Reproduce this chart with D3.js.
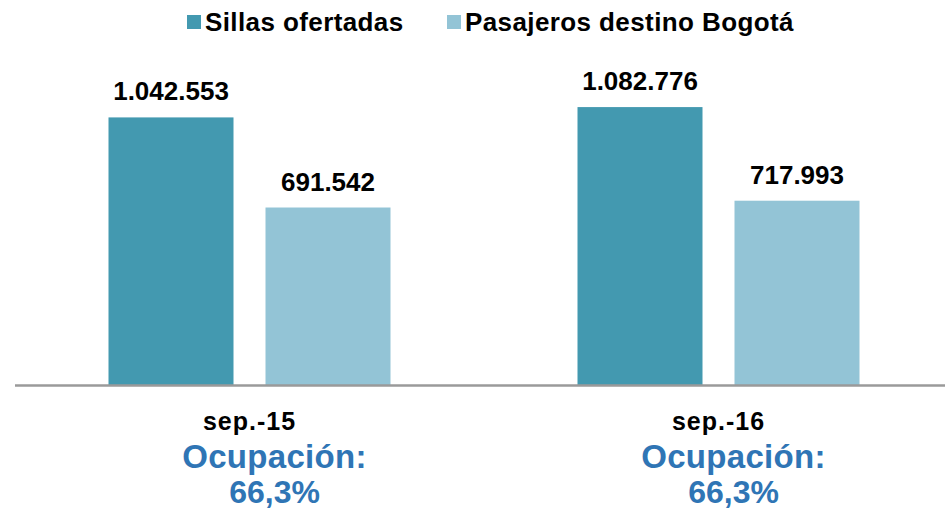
<!DOCTYPE html>
<html>
<head>
<meta charset="utf-8">
<script src="https://cdn.jsdelivr.net/npm/d3@7"></script>
<style>
  html, body { margin: 0; padding: 0; background: #fff; }
  svg { display: block; }
  text { font-family: "Liberation Sans", Arial, sans-serif; }
</style>
</head>
<body>
<svg id="chart" width="945" height="509"></svg>
<script>
const categories = ["sep.-15", "sep.-16"];
const seriesNames = ["Sillas ofertadas", "Pasajeros destino Bogotá"];
const sillas = [1042553, 1082776];
const pasajeros = [691542, 717993];
const ocupacion = ["66,3%", "66,3%"];
const colors = ["#4399B0", "#93C4D6"];

const fmt = v => d3.format(",")(v).replace(/,/g, ".");

const svg = d3.select("#chart");
const baseY = 385;

const x0 = d3.scaleBand().domain(categories).range([15, 953]).paddingInner(0).paddingOuter(0);
const x1 = d3.scaleBand().domain(seriesNames).range([-141, 141]).paddingInner(32 / 157).paddingOuter(0);
const y = d3.scaleLinear().domain([0, 1500000]).range([baseY, 0]);

const data = categories.map((c, i) => ({ cat: c, values: [sillas[i], pasajeros[i]] }));

const groups = svg.selectAll("g.grp").data(data).enter().append("g")
  .attr("class", "grp")
  .attr("transform", d => `translate(${x0(d.cat) + x0.bandwidth() / 2},0)`);

groups.selectAll("rect").data(d => d.values.map((v, j) => ({ v, s: seriesNames[j], j })))
  .enter().append("rect")
  .attr("x", d => x1(d.s))
  .attr("y", d => y(d.v))
  .attr("width", x1.bandwidth())
  .attr("height", d => baseY - y(d.v))
  .attr("fill", d => colors[d.j]);

groups.selectAll("text.val").data(d => d.values.map((v, j) => ({ v, s: seriesNames[j], j })))
  .enter().append("text")
  .attr("class", "val")
  .attr("x", d => x1(d.s) + x1.bandwidth() / 2)
  .attr("y", d => y(d.v) - 17)
  .attr("text-anchor", "middle")
  .attr("font-size", 26)
  .attr("font-weight", "bold")
  .attr("fill", "#000")
  .text(d => fmt(d.v));

// axis line
const xAxis = d3.axisBottom(x0).tickSize(0).tickPadding(0).tickFormat("");
const ax = svg.append("g").attr("transform", `translate(0,${baseY})`).call(xAxis);
ax.select(".domain").attr("stroke", "#9a9a9a").attr("stroke-width", 2.5).attr("d", "M15,0.5H945");

// category labels
groups.append("text")
  .attr("x", 0)
  .attr("y", 430)
  .attr("text-anchor", "middle")
  .attr("font-size", 25)
  .attr("letter-spacing", 1)
  .attr("font-weight", "bold")
  .attr("fill", "#000")
  .text(d => d.cat);

const offs = [25, 15];
groups.append("text")
  .attr("x", (d, i) => offs[i])
  .attr("y", 468)
  .attr("text-anchor", "middle")
  .attr("font-size", 33)
  .attr("letter-spacing", 0.3)
  .attr("font-weight", "bold")
  .attr("fill", "#2F75B5")
  .text("Ocupación:");

groups.append("text")
  .attr("x", (d, i) => offs[i])
  .attr("y", 503)
  .attr("text-anchor", "middle")
  .attr("font-size", 32)
  .attr("font-weight", "bold")
  .attr("fill", "#2F75B5")
  .text((d, i) => ocupacion[i]);

// legend
const legendX = [187, 447];
const leg = svg.selectAll("g.leg").data(seriesNames).enter().append("g")
  .attr("class", "leg")
  .attr("transform", (d, i) => `translate(${legendX[i]},15)`);
leg.append("rect").attr("width", 14).attr("height", 14).attr("fill", (d, i) => colors[i]);
leg.append("text")
  .attr("x", 18)
  .attr("y", 16)
  .attr("font-size", 26)
  .attr("letter-spacing", 0.4)
  .attr("font-weight", "bold")
  .attr("fill", "#000")
  .text(d => d);
</script>
</body>
</html>
